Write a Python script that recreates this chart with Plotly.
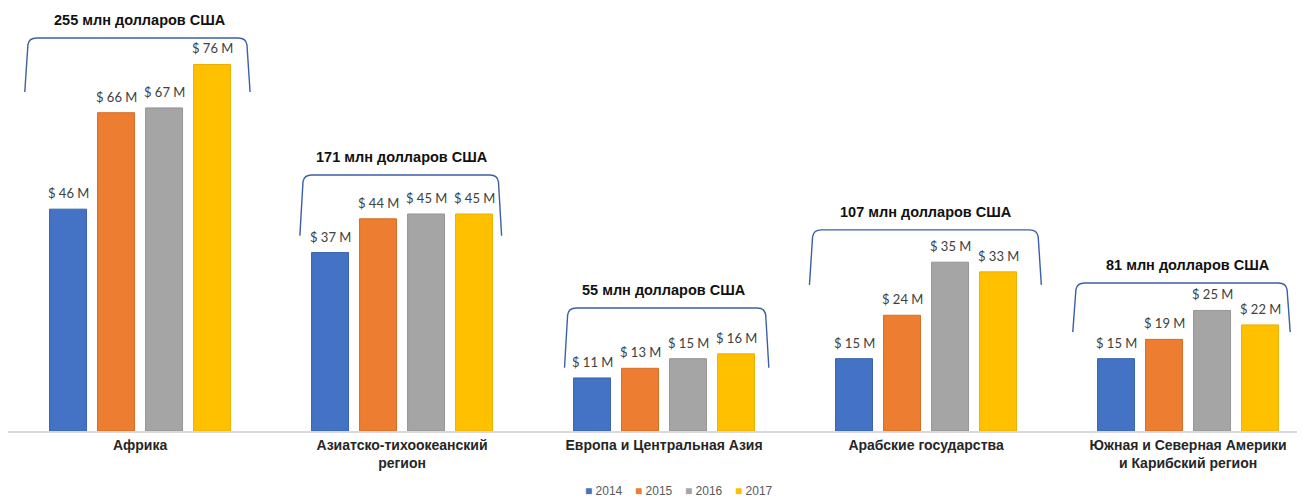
import plotly.graph_objects as go

categories = ["Африка", "Азиатско-тихоокеанский<br>регион", "Европа и Центральная Азия",
              "Арабские государства", "Южная и Северная Америки<br>и Карибский регион"]
years = ["2014", "2015", "2016", "2017"]
v2014 = [46, 37, 11, 15, 15]
v2015 = [66, 44, 13, 24, 19]
v2016 = [67, 45, 15, 35, 25]
v2017 = [76, 45, 16, 33, 22]
totals = ["255 млн долларов США", "171 млн долларов США", "55 млн долларов США",
          "107 млн долларов США", "81 млн долларов США"]

# bracket layout (style constants)
br_top = [81.5, 53.1, 25.5, 41.7, 30.7]
br_bot = [70.3, 40.5, 13.1, 30.3, 20.5]
br_left = [-0.44, -0.39, -0.38, -0.445, -0.44]
br_right = [0.42, 0.38, 0.40, 0.44, 0.39]

colors = ["#4472C4", "#ED7D31", "#A5A5A5", "#FFC000"]
lines = ["#3a63ad", "#d66d26", "#959595", "#e8b000"]
series = [v2014, v2015, v2016, v2017]
xs = list(range(len(categories)))

BARGAP = 0.267
slot = (1 - BARGAP) / len(series)

fig = go.Figure()
annotations = []
for k, (name, vals, c, lc) in enumerate(zip(years, series, colors, lines)):
    fig.add_trace(go.Bar(
        x=xs, y=vals, name=name,
        marker=dict(color=c, line=dict(color=lc, width=1)),
        showlegend=False,
    ))
    for i, v in zip(xs, vals):
        annotations.append(dict(
            x=i + (k - 1.5) * slot, y=v, xref="x", yref="y", text=f"$ {v} M",
            showarrow=False, yanchor="bottom", yshift=6,
            font=dict(family="Lato, Open Sans, sans-serif", size=13, color="#404040")))

shapes = []
for i in xs:
    x0 = i + br_left[i]
    x1 = i + br_right[i]
    yt, yb = br_top[i], br_bot[i]
    dy = 1.4
    path = (f"M {x0},{yb} L {x0+0.012},{yt-dy} Q {x0+0.016},{yt} {x0+0.045},{yt} "
            f"L {x1-0.045},{yt} Q {x1-0.016},{yt} {x1-0.012},{yt-dy} L {x1},{yb}")
    shapes.append(dict(type="path", path=path, xref="x", yref="y",
                       line=dict(color="#3C5FA8", width=1.4)))
    annotations.append(dict(x=i, y=yt, xref="x", yref="y", text=totals[i],
                            showarrow=False, yanchor="middle", yshift=18,
                            font=dict(family="Liberation Sans, Arial, sans-serif",
                                      size=14.5, color="#111111", weight="bold")))

# custom legend (below the axis)
leg_pitch = 50
for k, (name, c) in enumerate(zip(years, colors)):
    annotations.append(dict(
        x=0.5, xref="paper", y=-0.142, yref="paper",
        xshift=(k - 1.5) * leg_pitch + 18, xanchor="center", yanchor="middle",
        text=f'<span style="color:{c}">■</span> {name}', showarrow=False,
        font=dict(family="Liberation Sans, Arial, sans-serif", size=12, color="#595959")))

fig.update_layout(
    width=1305, height=501,
    margin=dict(l=0, r=0, t=2, b=78),
    paper_bgcolor="white", plot_bgcolor="white",
    barmode="group", bargap=BARGAP, bargroupgap=0.23,
    shapes=shapes, annotations=annotations,
    showlegend=False,
    xaxis=dict(tickvals=xs, ticktext=categories, range=[-0.504, -0.504 + 1305 / 262],
               showline=True, linecolor="#D9D9D9", linewidth=1.5, ticks="",
               tickfont=dict(family="Liberation Sans, Arial, sans-serif", size=14,
                             color="#262626", weight="bold"),
               showgrid=False, zeroline=False, automargin=False),
    yaxis=dict(range=[0, 87.3], visible=False, showgrid=False, zeroline=False,
               automargin=False),
)

fig.write_html("out.html")
